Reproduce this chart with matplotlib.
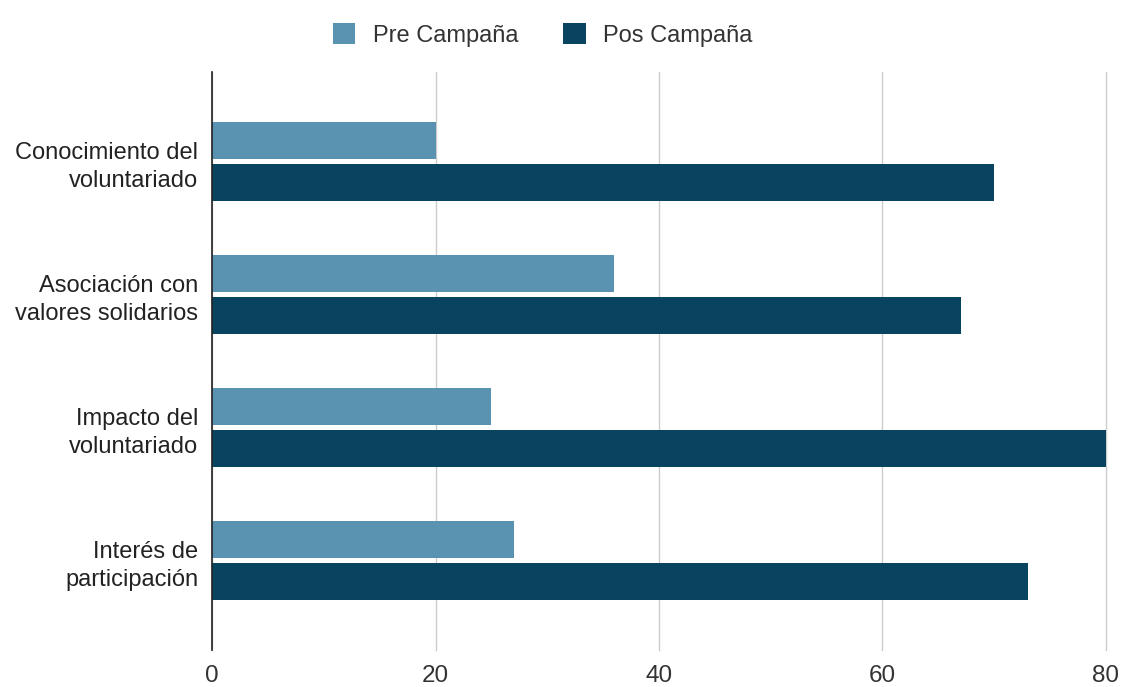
import matplotlib
matplotlib.use("Agg")
import matplotlib.pyplot as plt
import numpy as np

plt.rcParams['font.family'] = ['Liberation Sans', 'DejaVu Sans']

categories = ["Conocimiento del\nvoluntariado", "Asociación con\nvalores solidarios",
              "Impacto del\nvoluntariado", "Interés de\nparticipación"]
pre = [20, 36, 25, 27]
pos = [70, 67, 80, 73]
series_names = ["Pre Campaña", "Pos Campaña"]
xticks = [0, 20, 40, 60, 80]

c_pre = "#5a92b2"
c_pos = "#08445f"

fig = plt.figure(figsize=(11.26, 6.87), dpi=100)
ax = fig.add_axes([0.1883, 0.0539, 0.7939, 0.8411])

y = np.arange(len(categories))
h = 0.278
ax.barh(y - 0.158, pre, height=h, color=c_pre, label=series_names[0], zorder=3)
ax.barh(y + 0.158, pos, height=h, color=c_pos, label=series_names[1], zorder=3)

ax.set_ylim(3.67, -0.67)
ax.set_xlim(0, 80)
ax.set_yticks(y)
ax.set_yticklabels(categories, fontsize=17, color="#222222", linespacing=1.36)
ax.set_xticks(xticks)
ax.set_xticklabels([str(v) for v in xticks], fontsize=17.5, color="#333333")
ax.tick_params(axis="both", length=0)
ax.tick_params(axis="x", pad=11)
ax.tick_params(axis="y", pad=10)
ax.grid(axis="x", color="#cccccc", linewidth=1, zorder=0)
for gl in ax.get_xgridlines():
    gl.set_clip_on(False)
for s in ["top", "right", "bottom"]:
    ax.spines[s].set_visible(False)
ax.spines["left"].set_color("#222222")
ax.spines["left"].set_linewidth(1.2)
ax.spines["left"].set_zorder(4)

fig.legend(loc="upper center", bbox_to_anchor=(0.482, 0.997), ncol=2, frameon=False,
           fontsize=17, handlelength=0.95, handleheight=0.95, handletextpad=0.75,
           columnspacing=1.9, labelcolor="#333333")

fig.savefig("out.png", dpi=100)
